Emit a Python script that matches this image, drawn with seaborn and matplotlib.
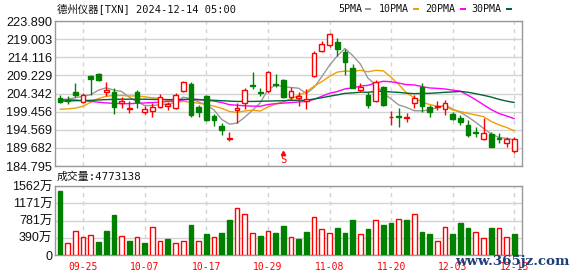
import numpy as np
import pandas as pd
import matplotlib
matplotlib.use("Agg")
import matplotlib.pyplot as plt
import seaborn as sns
from matplotlib.patches import Rectangle

sns.set_theme(style="white")
plt.rcParams["font.family"] = ["Liberation Sans", "Noto Sans CJK SC"]

# ---------------- data ----------------
title = "德州仪器[TXN] 2024-12-14 05:00"
vol_title = "成交量:4773138"

opens = [203.22, 202.59, 204.75, 202.14, 209.15, 209.60, 204.75, 204.84, 201.87, 200.07,
         204.75, 199.44, 199.71, 200.79, 200.97, 200.34, 205.11, 206.90, 200.79, 203.67,
         198.28, 195.58, 192.17, 199.89, 201.69, 206.54, 204.84, 205.11, 206.90, 207.98,
         203.31, 203.13, 202.41, 209.06, 215.89, 217.42, 218.32, 215.62, 211.13, 205.29,
         203.94, 202.41, 206.01, 197.90, 198.30, 197.85, 201.69, 206.00, 200.61, 200.61,
         200.16, 198.82, 197.65, 195.85, 193.87, 192.08, 193.42, 192.26, 190.91, 188.93]
highs = [203.94, 203.67, 207.26, 204.39, 209.42, 209.78, 207.44, 205.74, 203.31, 202.23,
         205.29, 200.97, 201.87, 204.21, 202.14, 204.57, 207.80, 207.53, 201.24, 203.94,
         198.73, 196.30, 194.05, 201.69, 205.74, 210.23, 205.74, 210.50, 209.60, 208.16,
         206.19, 204.84, 205.47, 215.80, 218.50, 220.75, 219.22, 216.25, 212.21, 207.08,
         204.84, 207.98, 206.37, 199.72, 200.34, 199.00, 203.94, 207.08, 201.24, 202.41,
         202.59, 199.44, 198.55, 197.20, 195.40, 197.65, 194.05, 193.60, 192.53, 192.53]
lows = [201.87, 201.42, 203.49, 201.69, 203.94, 207.80, 203.67, 198.73, 200.52, 199.17,
        200.34, 198.73, 198.10, 200.34, 199.89, 200.07, 204.75, 197.92, 198.10, 197.02,
        195.67, 193.15, 191.54, 196.48, 200.07, 205.47, 203.67, 204.57, 206.18, 203.00,
        202.59, 200.97, 200.07, 208.70, 215.62, 216.97, 214.54, 209.33, 205.74, 204.84,
        200.52, 202.14, 200.97, 195.85, 195.40, 196.75, 200.34, 199.44, 197.92, 199.89,
        198.55, 197.20, 195.85, 192.53, 192.53, 191.81, 189.83, 191.09, 189.83, 188.39]
closes = [202.14, 202.25, 203.85, 203.94, 208.16, 208.00, 205.29, 200.61, 202.23, 200.34,
          202.14, 200.07, 200.79, 203.31, 201.42, 203.94, 207.35, 198.55, 199.26, 197.20,
          197.30, 194.50, 192.34, 200.52, 205.29, 206.36, 204.57, 210.05, 206.72, 203.31,
          205.11, 203.67, 202.77, 215.17, 217.69, 220.39, 216.25, 212.93, 205.74, 206.19,
          201.24, 207.53, 201.24, 198.00, 198.10, 198.00, 203.04, 201.06, 199.44, 201.06,
          201.69, 197.47, 196.75, 193.15, 193.69, 193.80, 190.00, 192.08, 192.10, 191.95]

ma5 = [202.5, 202.8, 203.2, 203.6, 204.05, 205.25, 205.88, 205.23, 204.89, 203.33,
       202.12, 201.08, 201.11, 201.33, 201.55, 201.91, 203.36, 202.91, 202.10, 201.26,
       199.91, 197.34, 196.10, 196.35, 197.97, 199.80, 201.82, 205.36, 206.60, 206.20,
       205.95, 205.77, 204.32, 206.00, 208.88, 211.94, 214.45, 216.49, 214.60, 212.30,
       208.47, 206.73, 204.39, 202.88, 201.24, 200.60, 199.70, 199.66, 199.91, 200.52,
       201.26, 200.14, 199.28, 198.02, 196.55, 194.93, 193.44, 192.50, 192.24, 191.90]
ma10 = [200.1, 200.2, 200.4, 200.9, 202.0, 203.0, 203.6, 203.8, 203.8, 203.68,
        203.68, 203.46, 203.16, 203.09, 202.42, 202.01, 202.22, 202.01, 201.72, 201.40,
        200.92, 200.36, 199.52, 199.24, 199.63, 199.87, 199.59, 200.74, 201.49, 202.10,
        202.88, 203.79, 204.84, 206.30, 207.54, 208.95, 210.11, 210.40, 210.30, 210.59,
        210.20, 210.59, 210.44, 208.72, 206.76, 204.52, 203.20, 202.01, 201.38, 200.87,
        200.92, 199.91, 199.46, 198.98, 198.54, 198.12, 196.81, 195.91, 195.18, 194.27]
ma20 = [202.8, 202.7, 202.6, 202.4, 202.2, 202.0, 201.8, 201.7, 201.6, 201.6,
        201.7, 201.8, 201.9, 202.0, 202.2, 202.4, 202.6, 202.8, 202.7, 202.54,
        202.30, 201.91, 201.34, 201.17, 201.02, 200.94, 200.90, 201.38, 201.60, 201.75,
        201.90, 202.08, 202.18, 202.77, 203.58, 204.41, 204.85, 205.57, 205.89, 206.34,
        206.54, 207.19, 207.64, 207.51, 207.15, 206.73, 206.66, 206.21, 205.84, 205.73,
        205.56, 205.25, 204.95, 203.85, 202.65, 201.32, 200.01, 198.96, 198.28, 197.57]
ma30 = [202.3, 202.35, 202.4, 202.45, 202.5, 202.6, 202.7, 202.75, 202.8, 202.8,
        202.8, 202.8, 202.75, 202.7, 202.7, 202.7, 202.75, 202.8, 202.7, 202.6,
        202.5, 202.4, 202.3, 202.2, 202.2, 202.2, 202.25, 202.3, 202.35, 202.39,
        202.49, 202.54, 202.50, 202.88, 203.20, 203.61, 203.97, 204.38, 204.50, 204.70,
        204.67, 204.92, 204.93, 204.75, 204.64, 204.44, 204.30, 204.38, 204.39, 204.52,
        204.67, 204.76, 204.91, 204.67, 204.28, 203.86, 203.38, 202.78, 202.29, 201.91]

volumes = [1456, 264, 536, 400, 445, 294, 543, 906, 423, 317,
           400, 272, 626, 309, 362, 272, 317, 679, 317, 475,
           400, 506, 792, 1056, 928, 490, 430, 536, 506, 656,
           400, 362, 521, 853, 581, 490, 604, 498, 792, 468,
           589, 785, 679, 724, 807, 792, 928, 521, 475, 309,
           626, 475, 724, 611, 513, 377, 611, 604, 400, 477.3]
vol_up = [0, 1, 1, 1, 1, 0, 0, 0, 1, 0,
          1, 0, 1, 1, 0, 1, 1, 0, 1, 0,
          1, 0, 0, 1, 1, 1, 0, 1, 0, 0,
          1, 0, 0, 1, 1, 1, 0, 0, 0, 1,
          0, 1, 0, 0, 1, 0, 1, 0, 0, 1,
          1, 0, 0, 0, 1, 1, 0, 1, 1, 0]

price_ticks = [184.795, 189.682, 194.569, 199.456, 204.342, 209.229, 214.116, 219.003, 223.890]
price_tick_labels = ["184.795", "189.682", "194.569", "199.456", "204.342",
                     "209.229", "214.116", "219.003", "223.890"]
vol_ticks = [0, 390.5, 781, 1171.5, 1562]
vol_tick_labels = ["0", "390万", "781万", "1171万", "1562万"]
date_tick_idx = [3, 11, 19, 27, 35, 43, 51, 59]
date_tick_labels = ["09-25", "10-07", "10-17", "10-29", "11-08", "11-20", "12-03", "12-13"]
ma_names = ["5PMA", "10PMA", "20PMA", "30PMA"]
signal_idx = 29
signal_price = 186.3

# ---------------- styles ----------------
RED = "#ff0000"
GREEN = "#008000"
ma_colors = {"5PMA": "#999999", "10PMA": "#f0a000", "20PMA": "#ff00ff", "30PMA": "#006633"}
GRID = "#d3d3d3"
FRAME = "#999999"

W, H = 578, 276
fig = plt.figure(figsize=(W / 100, H / 100), dpi=100)
fig.patch.set_facecolor("white")


def fx(x):
    return x / W


def fy(y):
    return 1 - y / H


ax = fig.add_axes([fx(55), fy(166), 467 / W, 145 / H])
ax2 = fig.add_axes([fx(55), fy(255), 467 / W, 69 / H])

n = len(closes)
idx = np.arange(n)

# moving averages via seaborn
df_ma = pd.DataFrame({
    "idx": np.tile(idx, 4),
    "value": ma5 + ma10 + ma20 + ma30,
    "ma": np.repeat(ma_names, n),
})
sns.lineplot(data=df_ma, x="idx", y="value", hue="ma", palette=ma_colors,
             legend=False, ax=ax, linewidth=1, errorbar=None, zorder=2)

# candles
for i in range(n):
    o, h, l, c = opens[i], highs[i], lows[i], closes[i]
    up = c >= o
    col = RED if up else GREEN
    ax.vlines(i, l, h, color=col, linewidth=1, zorder=3)
    ax.bar(i, max(abs(c - o), 0.03), bottom=min(o, c), width=0.6,
           facecolor="white" if up else col, edgecolor=col, linewidth=1, zorder=4)

# signal marker
ax.plot([signal_idx], [signal_price + 1.9], marker="^", color=RED, markersize=3, zorder=5)
ax.text(signal_idx, signal_price, "S", color=RED, ha="center", va="center",
        fontsize=7.5, family="DejaVu Sans Mono", zorder=5)

# volume bars
for i in range(n):
    col = RED if vol_up[i] else GREEN
    ax2.bar(i, volumes[i], width=0.6, facecolor="white" if vol_up[i] else col,
            edgecolor=col, linewidth=1, zorder=3)

for a in (ax, ax2):
    a.set_xlim(-0.65, 60.0)
    a.set_xticks(date_tick_idx)
    a.grid(axis="y", color=GRID, linewidth=1, linestyle="-")
    a.grid(axis="x", color=GRID, linewidth=1, linestyle=(0, (3, 3)))
    a.set_axisbelow(True)
    a.tick_params(length=0, pad=2)
    a.set_xlabel("")
    a.set_ylabel("")
    for s in a.spines.values():
        s.set_visible(True)
        s.set_color(FRAME)
        s.set_linewidth(1)

ax.set_ylim(price_ticks[0], price_ticks[-1])
ax.set_yticks(price_ticks)
ax.set_yticklabels(price_tick_labels, fontsize=9.2, color="#111111")
ax.tick_params(axis="x", labelbottom=False)

ax2.set_ylim(0, 1562)
ax2.set_yticks(vol_ticks)
ax2.set_yticklabels(vol_tick_labels, fontsize=9, color="#111111")
ax2.set_xticklabels(date_tick_labels, color=RED, fontsize=7, family="DejaVu Sans Mono")
ax2.tick_params(axis="x", pad=5)

# title & volume label
fig.text(fx(57), fy(9), title, ha="left", va="center", fontsize=7.5,
         family=["DejaVu Sans Mono", "Noto Sans CJK SC"], color="#111111")
fig.text(fx(57), fy(177), vol_title, ha="left", va="center", fontsize=7.8,
         family=["DejaVu Sans Mono", "Noto Sans CJK SC"], color="#111111")

# legend
leg_text_x = [338, 379, 425.5, 471.5]
leg_mark_x = [365, 412.5, 460, 505.5]
for name, tx, mx in zip(ma_names, leg_text_x, leg_mark_x):
    fig.text(fx(tx), fy(9), name, ha="left", va="center", fontsize=7.2,
             family="DejaVu Sans Mono", color="#111111")
    fig.add_artist(Rectangle((fx(mx), fy(10.2)), 6 / W, 2.5 / H,
                             transform=fig.transFigure, facecolor=ma_colors[name],
                             edgecolor="none"))

# site watermark
fig.text(fx(455), fy(262), "www.365jz.com", ha="left", va="center", fontsize=9.6,
         family="DejaVu Serif", weight="bold", color="#1d3c78")

fig.savefig("out.png", dpi=100, facecolor="white")
